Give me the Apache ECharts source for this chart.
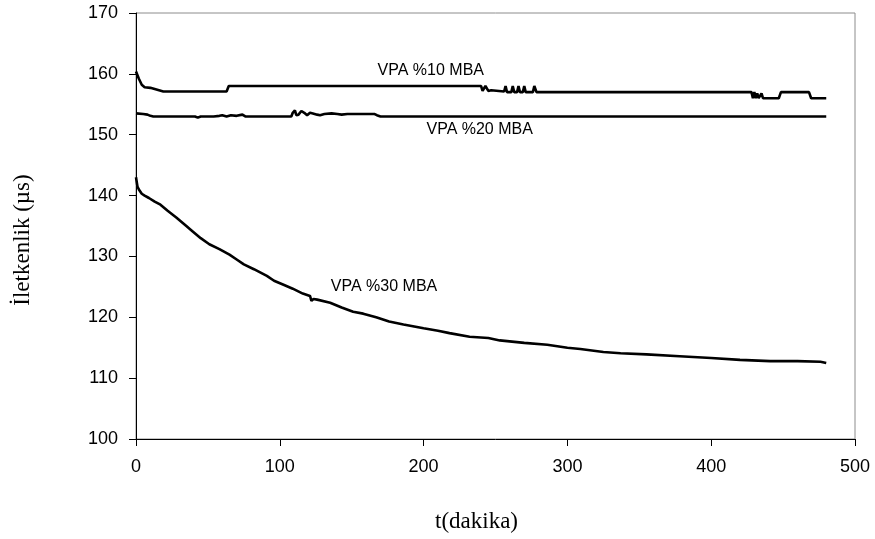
<!DOCTYPE html>
<html>
<head>
<meta charset="utf-8">
<title>İletkenlik - zaman</title>
<script src="https://cdn.jsdelivr.net/npm/echarts@6/dist/echarts.min.js"></script>
<style>
    html, body { margin: 0; padding: 0; background: #fff; }
    #main { width: 875px; height: 539px; }
</style>
</head>
<body>
<div id="main"></div>
<script>
// [t (dakika), iletkenlik (µs)]
var vpa10 = [
    [0,160.4],[1,160.2],[2,159.2],[4,158.2],[6,157.8],[10,157.7],[13,157.5],[16,157.3],[19,157.1],[20,156.9],[21,157.1],
    [63,157.1],[64.5,158],[240,158],[241,157.2],[243,158],[245,157.2],[247,157.3],[256,157.1],[257,158],[258,157],
    [261,157],[262,158],[263,157],[265,157],[266,158],[267,157],[269,157],[270,158],[271,157],[276,157],[277,158],
    [278.5,157],[428,157],[429,156],[430,157],[431,156],[432,156.8],[433,156],[434,156],[435,156.8],[436,156],
    [447,156],[448.5,157],[468,157],[469.5,156],[480,156]
];
var vpa20 = [
    [0,153.5],[5,153.4],[8,153.3],[10,153.1],[12,153],[38,153],[39,152.8],[41,153],[43,152.8],[45,153],[51,153],
    [52,152.9],[54,153],[58,153.1],[60,153.2],[63,153],[66,153.2],[70,153.1],[74,153.3],[76,153],[108,153],
    [109,153.6],[110.5,154],[111.5,153.2],[113,153.3],[115,153.9],[116,154.2],[117,153.6],[119,153.2],[121,153.6],
    [123,153.5],[126,153.3],[128,153.2],[131,153.4],[136,153.5],[140,153.4],[143,153.3],[147,153.4],[153,153.4],
    [154,153.2],[155,153.4],[166,153.4],[167.5,153.2],[168.5,153.5],[170,153],[480,153]
];
var vpa30 = [
    [0,143],[0.5,143.2],[1,141.5],[2,141],[4,140.3],[6,140],[9,139.6],[13,139],[17,138.5],[22,137.5],[28,136.4],
    [35,135],[38,134.4],[45,133],[51,132],[58,131.2],[65,130.3],[70,129.5],[75,128.7],[82,127.9],[91,126.8],
    [96,126],[103,125.3],[109,124.7],[116,123.9],[121,123.5],[122,122.7],[123.5,123],[126,122.9],[135,122.4],
    [143,121.6],[151,120.9],[158,120.6],[167,120],[176,119.3],[186,118.8],[200,118.2],[210,117.8],[218,117.4],
    [232,116.8],[245,116.6],[253,116.2],[270,115.8],[286,115.5],[300,115],[309,114.8],[325,114.3],[337,114.1],
    [355,113.9],[378,113.6],[400,113.3],[420,113],[441,112.8],[460,112.8],[476,112.7],[480,112.5]
];
// etiketler ve konumları [t, değer]
var seriesNames = ['VPA %10 MBA', 'VPA %20 MBA', 'VPA %30 MBA'];
var labelCoords = [[205,160.6], [239,150.8], [172.5,125.1]];

var myChart = echarts.init(document.getElementById('main'));

function makeSeries(name, data, coord) {
    return {
        name: name,
        type: 'line',
        data: data,
        showSymbol: false,
        lineStyle: { color: '#000', width: 2.6 },
        markPoint: {
            symbol: 'circle',
            symbolSize: 0,
            silent: true,
            label: {
                show: true,
                position: 'inside',
                formatter: name,
                color: '#000',
                fontFamily: 'Liberation Sans',
                fontSize: 16
            },
            data: [{ coord: coord }]
        }
    };
}

var option = {
    animation: false,
    backgroundColor: '#fff',
    grid: {
        left: 136, right: 20, top: 13, bottom: 100,
        show: true,
        borderColor: '#8c8c8c',
        borderWidth: 1
    },
    xAxis: {
        type: 'value',
        min: 0, max: 500, interval: 100,
        name: 't(dakika)',
        nameLocation: 'middle',
        nameGap: 71,
        nameTextStyle: { fontFamily: 'Liberation Serif', fontSize: 23, color: '#000', padding: [0, 38, 0, 0] },
        axisLine: { show: true, lineStyle: { color: '#000', width: 1 } },
        axisTick: { show: true, inside: false, length: 7, lineStyle: { color: '#000' } },
        axisLabel: { margin: 19, fontFamily: 'Liberation Sans', fontSize: 18, color: '#000' },
        splitLine: { show: false }
    },
    yAxis: {
        type: 'value',
        min: 100, max: 170, interval: 10,
        name: 'İletkenlik (µs)',
        nameLocation: 'middle',
        nameGap: 102,
        nameTextStyle: { fontFamily: 'Liberation Serif', fontSize: 23, color: '#000', padding: [0, 28, 0, 0] },
        axisLine: { show: true, lineStyle: { color: '#000', width: 1 } },
        axisTick: { show: true, inside: false, length: 7, lineStyle: { color: '#000' } },
        axisLabel: { margin: 18, fontFamily: 'Liberation Sans', fontSize: 18, color: '#000' },
        splitLine: { show: false }
    },
    series: [
        makeSeries(seriesNames[0], vpa10, labelCoords[0]),
        makeSeries(seriesNames[1], vpa20, labelCoords[1]),
        makeSeries(seriesNames[2], vpa30, labelCoords[2])
    ]
};

myChart.setOption(option);
</script>
</body>
</html>
